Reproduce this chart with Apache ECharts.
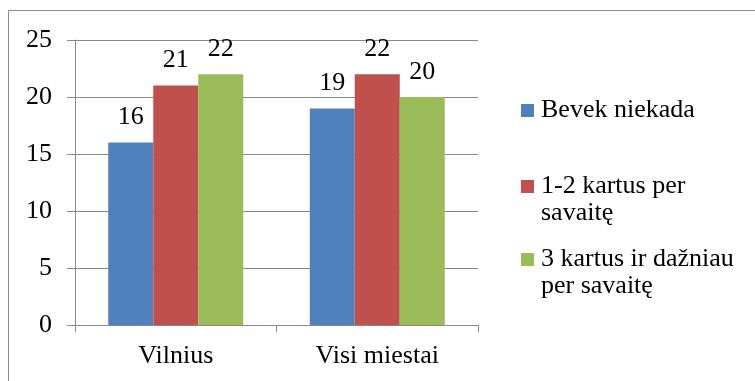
<!DOCTYPE html>
<html>
<head>
<meta charset="utf-8">
<script src="https://cdn.jsdelivr.net/npm/echarts@6/dist/echarts.min.js"></script>
<style>html,body{margin:0;padding:0;background:#fff}#c{width:755px;height:381px}</style>
</head>
<body>
<div id="c"></div>
<script>
var categories = ['Vilnius', 'Visi miestai'];
var seriesNames = ['Bevek niekada', '1-2 kartus per savaitę', '3 kartus ir dažniau per savaitę'];
var legendLabels = ['Bevek niekada', '1-2 kartus per\nsavaitę', '3 kartus ir dažniau\nper savaitę'];
var bevekNiekada = [16, 19];
var kartus12 = [21, 22];
var kartus3 = [22, 20];
var yTicks = [0, 5, 10, 15, 20, 25];
var colors = ['#4F81BD', '#C0504D', '#9BBB59'];

var FONT = 'Liberation Serif';
var GRAY = '#898989';
var values = [bevekNiekada, kartus12, kartus3];

var chart = echarts.init(document.getElementById('c'), null, {renderer: 'canvas'});

var series = seriesNames.map(function (n, i) {
  return {
    name: n,
    type: 'bar',
    data: values[i],
    barWidth: 45,
    barGap: '0%',
    itemStyle: {color: colors[i]},
    label: {show: true, position: 'top', distance: 12, color: '#000', fontFamily: FONT, fontSize: 26},
    animation: false
  };
});

var legendTops = [97, 146, 219];
var legends = seriesNames.map(function (n, i) {
  var twoLine = legendLabels[i].indexOf('\n') >= 0;
  return {
    data: [n],
    orient: 'vertical',
    left: 521,
    top: legendTops[i],
    padding: 0,
    itemWidth: 13,
    itemHeight: 13,
    icon: 'rect',
    selectedMode: false,
    formatter: function () { return twoLine ? ' \n' + legendLabels[i] : legendLabels[i]; },
    textStyle: {color: '#000', fontFamily: FONT, fontSize: 26, lineHeight: 27, padding: [0, 0, 0, 2]}
  };
});

chart.setOption({
  animation: false,
  color: colors,
  textStyle: {fontFamily: FONT, fontSize: 26, color: '#000'},
  graphic: [{type: 'rect', shape: {x: 8.5, y: 10.5, width: 800, height: 400}, style: {fill: 'none', stroke: '#8c8c8c', lineWidth: 1}, silent: true}],
  grid: {left: 75, top: 40, right: 277, bottom: 56, containLabel: false},
  legend: legends,
  xAxis: {
    type: 'category',
    data: categories,
    axisLine: {lineStyle: {color: GRAY, width: 1}},
    axisTick: {show: true, alignWithLabel: false, length: 7, lineStyle: {color: GRAY}},
    axisLabel: {color: '#000', fontFamily: FONT, fontSize: 26, margin: 18}
  },
  yAxis: {
    type: 'value',
    min: yTicks[0],
    max: yTicks[yTicks.length - 1],
    interval: yTicks[1] - yTicks[0],
    axisLine: {show: true, lineStyle: {color: GRAY, width: 1}},
    axisTick: {show: true, length: 8, lineStyle: {color: GRAY}},
    splitLine: {show: true, lineStyle: {color: GRAY, width: 1}},
    axisLabel: {color: '#000', fontFamily: FONT, fontSize: 26, margin: 23}
  },
  series: series
});
</script>
</body>
</html>
